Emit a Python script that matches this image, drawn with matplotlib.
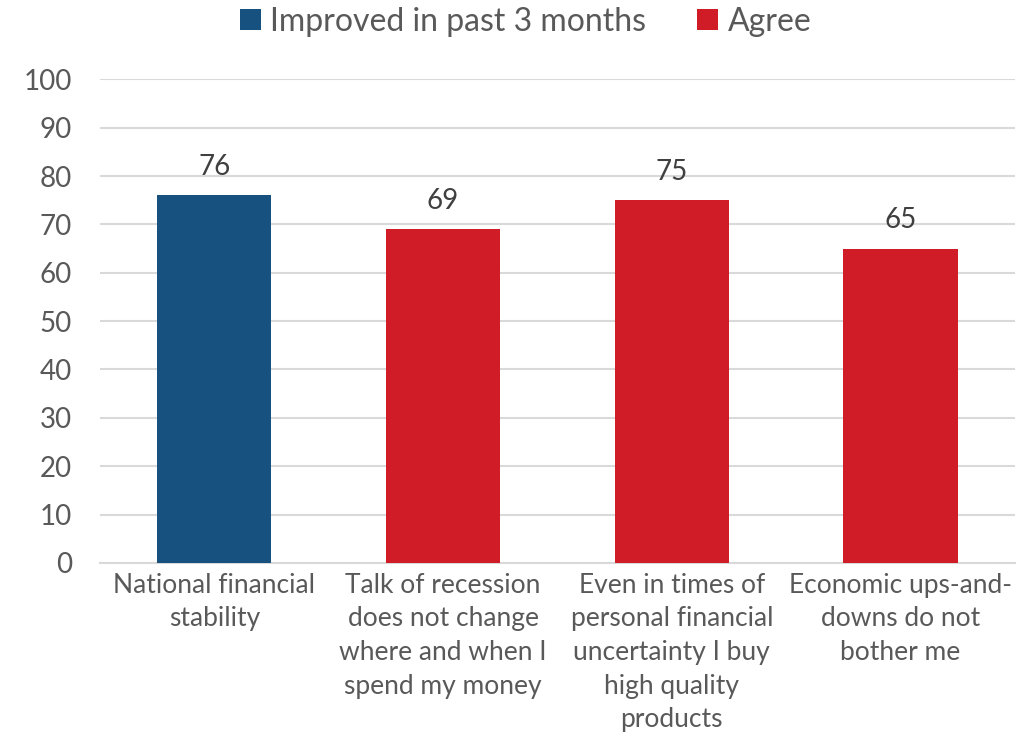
import matplotlib
matplotlib.use("Agg")
import matplotlib.pyplot as plt
from matplotlib.patches import Patch

plt.rcParams["font.family"] = ["Lato", "DejaVu Sans"]

CATEGORIES = [
    "National financial\nstability",
    "Talk of recession\ndoes not change\nwhere and when I\nspend my money",
    "Even in times of\npersonal financial\nuncertainty I buy\nhigh quality\nproducts",
    "Economic ups-and-\ndowns do not\nbother me",
]
VALUES = [76, 69, 75, 65]
SERIES = ["Improved in past 3 months", "Agree", "Agree", "Agree"]
YTICKS = [0, 10, 20, 30, 40, 50, 60, 70, 80, 90, 100]

BLUE = "#16517f"
RED = "#d01c27"
TEXT = "#595959"
GRID = "#d9d9d9"
COLOURS = {"Improved in past 3 months": BLUE, "Agree": RED}

fig = plt.figure(figsize=(10.19, 7.34), dpi=100)
ax = fig.add_axes([0.098, 0.233, 0.898, 0.659])

xs = range(len(CATEGORIES))
ax.bar(xs, VALUES, width=0.5,
       color=[COLOURS[s] for s in SERIES], zorder=3)

for x, v in zip(xs, VALUES):
    ax.text(x, v + 3.2, str(v), ha="center", va="bottom",
            fontsize=20, color="#404040")

ax.set_xlim(-0.5, len(CATEGORIES) - 0.5)
ax.set_ylim(0, 100)
ax.set_yticks(YTICKS)
ax.set_yticklabels([str(t) for t in YTICKS])
ax.set_xticks(list(xs))
ax.set_xticklabels(CATEGORIES, fontsize=19, color=TEXT, linespacing=1.43)
ax.tick_params(axis="y", labelsize=20, labelcolor=TEXT, length=0, pad=20)
ax.tick_params(axis="x", length=0, pad=7)

ax.yaxis.grid(True, color=GRID, linewidth=1.5, zorder=0)
for name, spine in ax.spines.items():
    spine.set_visible(name == "bottom")
ax.spines["bottom"].set_color(GRID)
ax.spines["bottom"].set_linewidth(1.5)

handles = [Patch(facecolor=BLUE, label="Improved in past 3 months"),
           Patch(facecolor=RED, label="Agree")]
fig.legend(handles=handles, loc="center", bbox_to_anchor=(0.516, 0.97),
           ncol=2, frameon=False, fontsize=23, handlelength=0.65,
           handleheight=0.65, handletextpad=0.3, columnspacing=1.6,
           labelcolor=TEXT)

fig.savefig("out.png", dpi=100)
